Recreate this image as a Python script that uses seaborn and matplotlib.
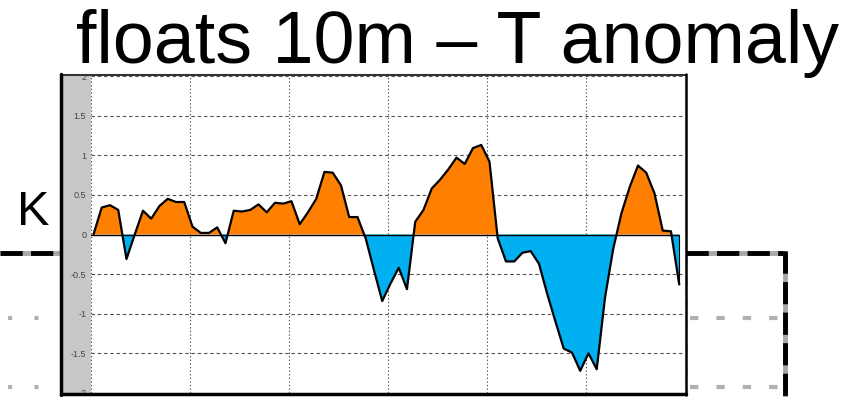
import numpy as np
import pandas as pd
import matplotlib
matplotlib.use("Agg")
import matplotlib.pyplot as plt
from matplotlib.lines import Line2D
from matplotlib.patches import Rectangle
from matplotlib.transforms import Bbox, TransformedBbox
import seaborn as sns

# Monthly 10 m temperature anomaly from floats (K), six years
anomaly = [
    0.00, 0.34, 0.37, 0.31, -0.31, 0.00, 0.30, 0.20, 0.36, 0.45, 0.41, 0.41,
    0.10, 0.02, 0.02, 0.09, -0.11, 0.30, 0.29, 0.31, 0.38, 0.28, 0.40, 0.39,
    0.42, 0.13, 0.28, 0.45, 0.79, 0.78, 0.62, 0.22, 0.22, -0.05, -0.45, -0.84,
    -0.62, -0.42, -0.69, 0.16, 0.31, 0.58, 0.69, 0.82, 0.97, 0.89, 1.09, 1.13,
    0.92, -0.05, -0.34, -0.34, -0.23, -0.21, -0.37, -0.75, -1.10, -1.44, -1.49, -1.72,
    -1.50, -1.70, -0.80, -0.18, 0.27, 0.60, 0.87, 0.78, 0.52, 0.05, 0.04, -0.63,
]
month_index = list(range(len(anomaly)))
y_ticks = [-2, -1.5, -1, -0.5, 0, 0.5, 1, 1.5, 2]
y_tick_labels = ["-2", "-1.5", "-1", "-0.5", "0", "0.5", "1", "1.5", "2"]
year_lines = [0, 1, 2, 3, 4, 5, 6]
title_text = "floats 10m \u2013 T anomaly"
unit_text = "K"

sns.set_style("white")
plt.rcParams["font.family"] = ["Liberation Sans", "DejaVu Sans"]
plt.rcParams["lines.scale_dashes"] = False

W, H = 865, 397
fig = plt.figure(figsize=(W / 100, H / 100), dpi=100)
fig.patch.set_facecolor("white")


def fx(x):
    return x / W


def fy(y):
    return 1 - y / H


def fig_line(xs, ys, **kw):
    fig.add_artist(Line2D([fx(v) for v in xs], [fy(v) for v in ys],
                          transform=fig.transFigure, **kw))


# Background slide guides
for y in (318, 387):
    fig_line([8, 58], [y, y], color="#b0b0b0", lw=3.0, dashes=(3, 16))
    fig_line([690, 784], [y, y], color="#b0b0b0", lw=3.0, dashes=(6, 13))
fig_line([687, 687], [255, 397], color="#d0d0d0", lw=1.5, dashes=(6, 10))
for xs, ys in (([0, 61], [252.5, 252.5]), ([686, 785.5], [252.5, 252.5]),
               ([784.5, 784.5], [251, 397])):
    fig_line(xs, ys, color="#a8a8a8", lw=3.5, solid_capstyle="butt")
    fig_line(xs, ys, color="black", lw=3.5, dashes=(16, 6),
             solid_capstyle="butt", dash_capstyle="butt")

# Panel frame with grey label strip
fig.add_artist(Rectangle((fx(61), fy(394)), fx(686) - fx(61), fy(75) - fy(394),
                         transform=fig.transFigure, facecolor="white",
                         edgecolor="none", zorder=1))
fig.add_artist(Rectangle((fx(62), fy(393)), fx(91) - fx(62), fy(76) - fy(393),
                         transform=fig.transFigure, facecolor="#c8c8c8",
                         edgecolor="none", zorder=1))

ax = fig.add_axes([fx(91), fy(393), fx(685) - fx(91), fy(76) - fy(393)])
ax.set_zorder(2)
ax.set_facecolor("white")

df = pd.DataFrame({"month": month_index, "anomaly": anomaly})
df["year"] = (df["month"] + 0.3) / 12.0
xv = df["year"].to_numpy()
yv = df["anomaly"].to_numpy()

ax.fill_between(xv, yv, 0, where=yv >= 0, interpolate=True,
                color="#ff8000", lw=0, zorder=2)
ax.fill_between(xv, yv, 0, where=yv <= 0, interpolate=True,
                color="#00b0f0", lw=0, zorder=2)
ax.axhline(0, xmin=0, xmax=(xv[-1]) / 6, color="black", lw=1.0, zorder=3)
sns.lineplot(data=df, x="year", y="anomaly", ax=ax, color="black",
             lw=1.6, zorder=4, legend=False)
ax.plot([xv[-1], xv[-1]], [0, yv[-1]], color="black", lw=0.8, zorder=4)

ax.set_xlim(0, 6)
ax.set_ylim(-2, 2)
for y in y_ticks:
    if y != 0 and y != -2:
        ax.axhline(y, color="#555555", lw=0.8, dashes=(2.5, 2.0), zorder=1)
for x in year_lines:
    ax.axvline(x, color="#555555", lw=0.8, dashes=(1.0, 1.6), zorder=1)

ax.set_xlabel("")
ax.set_ylabel("")
ax.set_xticks([])
ax.set_yticks(y_ticks)
ax.set_yticklabels(y_tick_labels)
ax.tick_params(axis="y", length=2, width=0.6, color="#444444", pad=1.5,
               labelsize=6.5, labelcolor="#444444", direction="out")
clip = TransformedBbox(Bbox.from_extents(fx(61), fy(394), fx(686), fy(75)),
                       fig.transFigure)
for lab in ax.get_yticklabels():
    lab.set_clip_box(clip)
    lab.set_clip_on(True)
for s in ax.spines.values():
    s.set_visible(False)

# Outer border of the panel
fig_line([61, 686], [75, 75], color="#333333", lw=1.5, zorder=5)
fig_line([61, 686], [394, 394], color="black", lw=2.5, zorder=5)
fig_line([61, 61], [74, 395], color="black", lw=2.5, zorder=5)
fig_line([686, 686], [74, 395], color="black", lw=1.8, zorder=5)

fig.text(fx(458), fy(63), title_text, fontsize=53, ha="center",
         va="baseline", color="black")
fig.text(fx(33), fy(225), unit_text, fontsize=35, ha="center",
         va="baseline", color="black")

fig.savefig("out.png", dpi=100, facecolor="white")
